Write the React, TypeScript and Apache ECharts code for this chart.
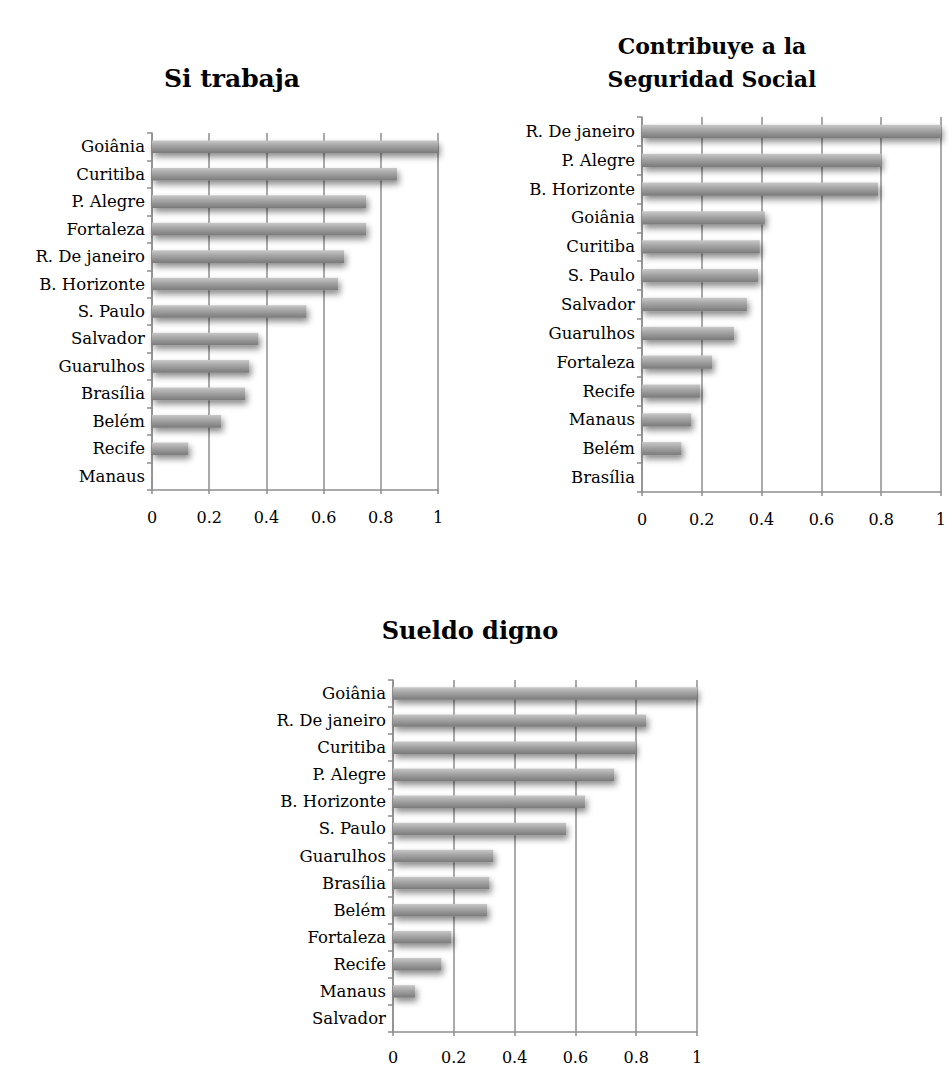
import React, { useEffect, useRef } from "react";
import * as echarts from "echarts";

const titles = ["Si trabaja", "Contribuye a la\nSeguridad Social", "Sueldo digno"];

const cities1 = ["Goiânia", "Curitiba", "P. Alegre", "Fortaleza", "R. De janeiro", "B. Horizonte", "S. Paulo", "Salvador", "Guarulhos", "Brasília", "Belém", "Recife", "Manaus"];
const values1 = [1.0, 0.857, 0.749, 0.749, 0.672, 0.651, 0.54, 0.372, 0.34, 0.326, 0.242, 0.127, 0];

const cities2 = ["R. De janeiro", "P. Alegre", "B. Horizonte", "Goiânia", "Curitiba", "S. Paulo", "Salvador", "Guarulhos", "Fortaleza", "Recife", "Manaus", "Belém", "Brasília"];
const values2 = [1.0, 0.8, 0.79, 0.411, 0.394, 0.388, 0.351, 0.308, 0.235, 0.195, 0.165, 0.132, 0];

const cities3 = ["Goiânia", "R. De janeiro", "Curitiba", "P. Alegre", "B. Horizonte", "S. Paulo", "Guarulhos", "Brasília", "Belém", "Fortaleza", "Recife", "Manaus", "Salvador"];
const values3 = [1.0, 0.833, 0.797, 0.728, 0.632, 0.569, 0.33, 0.317, 0.31, 0.192, 0.159, 0.073, 0];

const FONT = "'DejaVu Serif', 'Liberation Serif', serif";
const GRID_COLOR = "#8e8e8e";

export default function App() {
  const ref = useRef<HTMLDivElement>(null);
  useEffect(() => {
    if (!ref.current) return;
    const chart = echarts.init(ref.current, undefined, { renderer: "svg" });
    const grids = [
      { left: 152, top: 133, width: 286, height: 357 },
      { left: 642, top: 117, width: 301, height: 375 },
      { left: 393, top: 680, width: 304, height: 352 },
    ];
    const cats = [cities1, cities2, cities3];
    const vals = [values1, values2, values3];
    const xMargins = [19, 19, 17];
    const barColor = new echarts.graphic.LinearGradient(0, 0, 0, 1, [
      { offset: 0, color: "#c8c8c8" },
      { offset: 0.4, color: "#a6a6a6" },
      { offset: 1, color: "#7a7a7a" },
    ]);
    const option: any = {
      animation: false,
      backgroundColor: "#ffffff",
      grid: grids.map((g) => ({ ...g, containLabel: false })),
      xAxis: grids.map((_, i) => ({
        type: "value",
        gridIndex: i,
        min: 0,
        max: 1,
        interval: 0.2,
        axisLine: { show: true, lineStyle: { color: GRID_COLOR, width: 1.5 } },
        axisTick: { show: true, length: 4, lineStyle: { color: GRID_COLOR, width: 1.5 } },
        splitLine: { show: true, lineStyle: { color: GRID_COLOR, width: 1.5 } },
        axisLabel: {
          color: "#000",
          fontFamily: FONT,
          fontSize: 16,
          margin: xMargins[i],
          formatter: (v: number) => String(Math.round(v * 10) / 10),
        },
      })),
      yAxis: grids.map((_, i) => ({
        type: "category",
        gridIndex: i,
        inverse: true,
        data: cats[i],
        axisLine: { show: true, lineStyle: { color: GRID_COLOR, width: 1.5 } },
        axisTick: { show: true, length: 5, lineStyle: { color: GRID_COLOR, width: 1.5 } },
        axisLabel: { color: "#000", fontFamily: FONT, fontSize: 16.5, margin: 7 },
      })),
      series: grids.map((_, i) => ({
        type: "bar",
        xAxisIndex: i,
        yAxisIndex: i,
        data: vals[i],
        barWidth: "46%",
        itemStyle: {
          color: barColor,
          shadowBlur: 6,
          shadowOffsetX: 2,
          shadowOffsetY: 4,
          shadowColor: "rgba(0,0,0,0.45)",
        },
      })),
      graphic: [
        { type: "text", x: 232, y: 78, style: { text: titles[0], fontFamily: FONT, fontSize: 25, fontWeight: "bold", fill: "#000", textAlign: "center", textVerticalAlign: "middle" } },
        { type: "text", x: 712, y: 62, style: { text: titles[1], fontFamily: FONT, fontSize: 22, fontWeight: "bold", fill: "#000", textAlign: "center", textVerticalAlign: "middle", lineHeight: 33 } },
        { type: "text", x: 470, y: 630, style: { text: titles[2], fontFamily: FONT, fontSize: 24, fontWeight: "bold", fill: "#000", textAlign: "center", textVerticalAlign: "middle" } },
      ],
    };
    chart.setOption(option);
    return () => chart.dispose();
  }, []);
  return <div ref={ref} style={{ position: "absolute", left: 0, top: 0, width: 949, height: 1070 }} />;
}
